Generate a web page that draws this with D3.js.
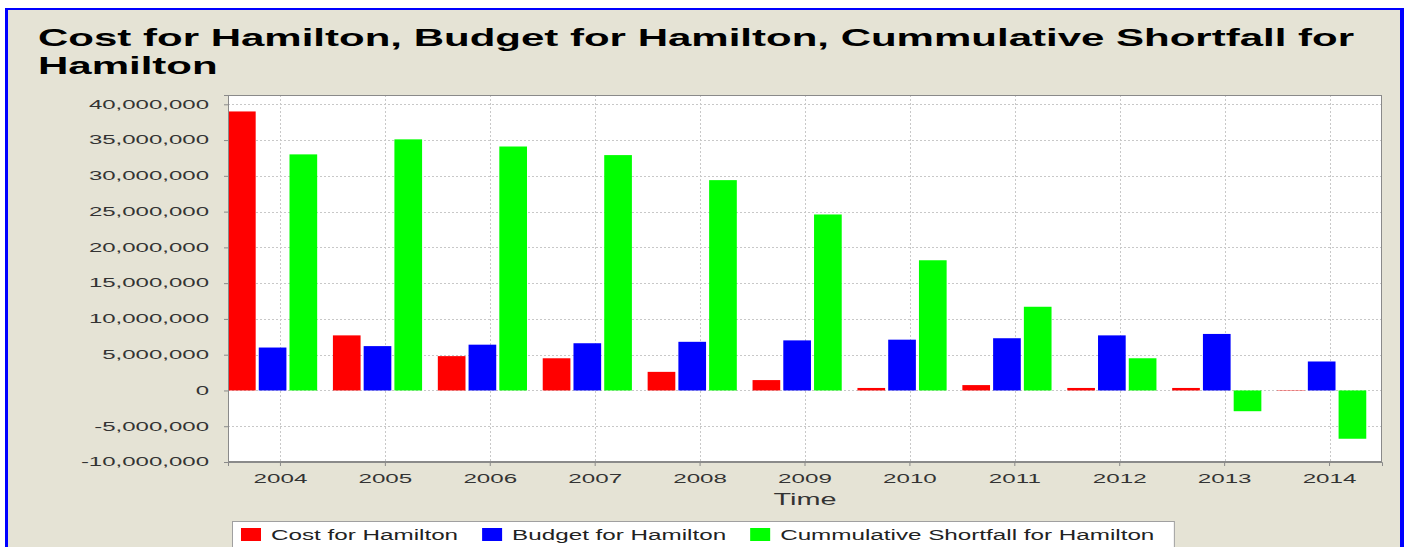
<!DOCTYPE html>
<html>
<head>
<meta charset="utf-8">
<script src="https://cdn.jsdelivr.net/npm/d3@7"></script>
<style>
  html, body { margin: 0; padding: 0; background: #ffffff; }
  svg { display: block; }
  text { font-family: "Liberation Sans", Arial, sans-serif; }
</style>
</head>
<body>
<div id="chart"></div>
<script>
// chart data
const years = ["2004", "2005", "2006", "2007", "2008", "2009", "2010", "2011", "2012", "2013", "2014"];
const seriesNames = ["Cost for Hamilton", "Budget for Hamilton", "Cummulative Shortfall for Hamilton"];
const costValues = [39000000, 7700000, 4800000, 4500000, 2600000, 1450000, 350000, 750000, 350000, 350000, 50000];
const budgetValues = [6000000, 6200000, 6400000, 6600000, 6800000, 7000000, 7100000, 7300000, 7700000, 7900000, 4050000];
const shortfallValues = [33000000, 35100000, 34100000, 32900000, 29400000, 24600000, 18200000, 11700000, 4500000, -2900000, -6750000];
const yTickValues = [-10000000, -5000000, 0, 5000000, 10000000, 15000000, 20000000, 25000000, 30000000, 35000000, 40000000];
const titleLines = ["Cost for Hamilton, Budget for Hamilton, Cummulative Shortfall for", "Hamilton"];
const xAxisLabel = "Time";

document.addEventListener("DOMContentLoaded", function () {
    const width = 1406,
          height = 547;
    const plot = { left: 228, right: 1382, top: 95, bottom: 462 };
    const colors = ["#ff0000", "#0000ff", "#00ff00"];
    const seriesValues = [costValues, budgetValues, shortfallValues];

    // plain hyphen for negatives, like the original
    const fmt = d3.formatLocale({ decimal: ".", thousands: ",", grouping: [3], currency: ["$", ""], minus: "-" }).format(",");

    const svg = d3.select("#chart").append("svg")
        .attr("width", width)
        .attr("height", height);

    // the source image is stretched sideways, so widen text the same way
    function stretch(sel, k) {
        sel.each(function () {
            const len = this.getComputedTextLength();
            d3.select(this)
                .attr("textLength", len * k)
                .attr("lengthAdjust", "spacingAndGlyphs");
        });
    }

    // frame: beige panel with a blue border
    svg.append("rect").attr("x", 0).attr("y", 0).attr("width", width).attr("height", height).attr("fill", "#ffffff");
    svg.append("rect").attr("x", 5).attr("y", 8).attr("width", 1399).attr("height", height - 8).attr("fill", "#0000ff");
    svg.append("rect").attr("x", 8).attr("y", 10).attr("width", 1392).attr("height", height - 10).attr("fill", "#e5e3d5");

    // title
    svg.append("g")
        .selectAll("text")
        .data(titleLines)
        .join("text")
        .attr("x", 38)
        .attr("y", (d, i) => 46 + i * 28)
        .style("font-size", "24px")
        .style("font-weight", "bold")
        .attr("fill", "#000")
        .text(d => d)
        .call(stretch, 1.75);

    // scales
    const x0 = d3.scaleBand()
        .domain(years)
        .range([plot.left, plot.right])
        .paddingInner(0)
        .paddingOuter(0);

    const x1 = d3.scaleBand()
        .domain(d3.range(seriesNames.length))
        .range([0, x0.bandwidth() * 0.85])
        .paddingInner(0.1);

    const y = d3.scaleLinear()
        .domain([-10000000, 41300000])
        .range([plot.bottom, plot.top]);

    // plot background
    svg.append("rect")
        .attr("x", plot.left)
        .attr("y", plot.top)
        .attr("width", plot.right - plot.left)
        .attr("height", plot.bottom - plot.top)
        .attr("fill", "#ffffff");

    // grid lines
    const grid = svg.append("g")
        .attr("stroke", "#c8c8c8")
        .attr("stroke-width", 1)
        .attr("stroke-dasharray", "2,2");

    grid.selectAll("line.h")
        .data(yTickValues)
        .join("line")
        .attr("class", "h")
        .attr("x1", plot.left)
        .attr("x2", plot.right)
        .attr("y1", d => Math.round(y(d)) + 0.5)
        .attr("y2", d => Math.round(y(d)) + 0.5);

    grid.selectAll("line.v")
        .data(years)
        .join("line")
        .attr("class", "v")
        .attr("x1", d => Math.round(x0(d) + x0.bandwidth() / 2) + 0.5)
        .attr("x2", d => Math.round(x0(d) + x0.bandwidth() / 2) + 0.5)
        .attr("y1", plot.top)
        .attr("y2", plot.bottom);

    // bars
    const groups = svg.append("g")
        .selectAll("g")
        .data(years)
        .join("g")
        .attr("transform", d => `translate(${x0(d)},0)`);

    groups.selectAll("rect")
        .data((d, i) => seriesValues.map((vals, s) => ({ s: s, v: vals[i] })))
        .join("rect")
        .attr("x", d => x1(d.s))
        .attr("width", x1.bandwidth())
        .attr("y", d => y(Math.max(0, d.v)))
        .attr("height", d => Math.abs(y(d.v) - y(0)))
        .attr("fill", d => colors[d.s]);

    // plot outline
    svg.append("rect")
        .attr("x", plot.left + 0.5)
        .attr("y", plot.top + 0.5)
        .attr("width", plot.right - plot.left - 1)
        .attr("height", plot.bottom - plot.top - 1)
        .attr("fill", "none")
        .attr("stroke", "#8a8a8a");

    // y axis
    const yAxis = svg.append("g")
        .attr("transform", `translate(${plot.left},0)`)
        .call(d3.axisLeft(y)
            .tickValues(yTickValues)
            .tickFormat(fmt)
            .tickSize(4)
            .tickPadding(15));
    yAxis.select(".domain").attr("stroke", "#8a8a8a");
    yAxis.selectAll(".tick line").attr("stroke", "#8a8a8a");
    yAxis.selectAll(".tick text")
        .attr("fill", "#333333")
        .style("font-size", "12px")
        .style("font-family", "'Liberation Sans', Arial, sans-serif")
        .call(stretch, 2.0);

    // x axis
    const xAxis = svg.append("g")
        .attr("transform", `translate(0,${plot.bottom})`)
        .call(d3.axisBottom(x0)
            .tickSize(4)
            .tickPadding(8));
    xAxis.select(".domain").attr("stroke", "#8a8a8a");
    xAxis.selectAll(".tick line").attr("stroke", "#8a8a8a");
    xAxis.selectAll(".tick text")
        .attr("fill", "#333333")
        .style("font-size", "13px")
        .style("font-family", "'Liberation Sans', Arial, sans-serif")
        .call(stretch, 1.86);

    // x axis title
    svg.append("text")
        .attr("x", (plot.left + plot.right) / 2)
        .attr("y", 505)
        .attr("text-anchor", "middle")
        .attr("fill", "#333333")
        .style("font-size", "16px")
        .text(xAxisLabel)
        .call(stretch, 1.8);

    // legend
    const legend = svg.append("g");
    const legendBox = legend.append("rect")
        .attr("y", 521.5)
        .attr("height", 40)
        .attr("fill", "#ffffff")
        .attr("stroke", "#a0a0a0");

    let cursor = 241;
    seriesNames.forEach((name, i) => {
        legend.append("rect")
            .attr("x", cursor)
            .attr("y", 528)
            .attr("width", 20)
            .attr("height", 13)
            .attr("fill", colors[i]);
        const t = legend.append("text")
            .attr("x", cursor + 30)
            .attr("y", 540)
            .attr("fill", "#222222")
            .style("font-size", "14px")
            .text(name)
            .call(stretch, 1.73);
        cursor += 30 + +t.attr("textLength") + 24;
    });
    legendBox
        .attr("x", 232.5)
        .attr("width", cursor - 24 + 20 - 232.5);
});
</script>
</body>
</html>
